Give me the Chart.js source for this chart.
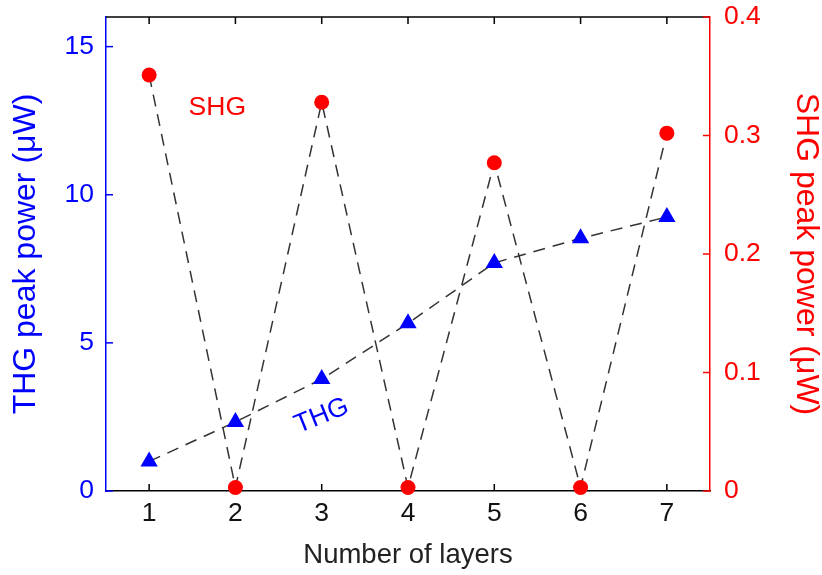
<!DOCTYPE html>
<html>
<head>
<meta charset="utf-8">
<script src="https://cdn.jsdelivr.net/npm/chart.js@4"></script>
<style>body{margin:0;background:#fff}</style>
</head>
<body>
<canvas id="layersChart" width="822" height="575"></canvas>
<script>
const layers = [1, 2, 3, 4, 5, 6, 7];
const thgPower = [1.0, 2.33, 3.78, 5.66, 7.7, 8.53, 9.25];
const shgPower = [0.351, 0.003, 0.328, 0.003, 0.277, 0.003, 0.302];
const xTicks = [1, 2, 3, 4, 5, 6, 7];
const thgTicks = [0, 5, 10, 15];
const shgTicks = [0, 0.1, 0.2, 0.3, 0.4];

const family = '"Liberation Sans", Arial, Helvetica, sans-serif';
Chart.defaults.font.family = family;

// inward ticks, top frame line and the two in-plot labels
const frame = {
  id: 'frame',
  beforeDatasetsDraw(chart) {
    const {ctx, chartArea: a, scales} = chart;
    ctx.save();
    ctx.lineWidth = 1.5;
    ctx.strokeStyle = '#000';
    ctx.beginPath();
    ctx.moveTo(a.left, a.top);
    ctx.lineTo(a.right, a.top);
    ctx.stroke();
    xTicks.forEach(v => {
      const px = scales.x.getPixelForValue(v);
      ctx.beginPath();
      ctx.moveTo(px, a.bottom); ctx.lineTo(px, a.bottom - 7);
      ctx.moveTo(px, a.top); ctx.lineTo(px, a.top + 7);
      ctx.stroke();
    });
    ctx.strokeStyle = 'blue';
    thgTicks.forEach(v => {
      const py = scales.yThg.getPixelForValue(v);
      ctx.beginPath();
      ctx.moveTo(a.left, py); ctx.lineTo(a.left + 7, py);
      ctx.stroke();
    });
    ctx.strokeStyle = 'red';
    shgTicks.forEach(v => {
      const py = scales.yShg.getPixelForValue(v);
      ctx.beginPath();
      ctx.moveTo(a.right, py); ctx.lineTo(a.right - 7, py);
      ctx.stroke();
    });

    ctx.font = '26.5px ' + family;
    ctx.textAlign = 'center';
    ctx.textBaseline = 'middle';
    ctx.fillStyle = 'red';
    ctx.fillText('SHG', scales.x.getPixelForValue(1.79), scales.yThg.getPixelForValue(12.95));
    ctx.fillStyle = 'blue';
    ctx.translate(scales.x.getPixelForValue(3.0), scales.yThg.getPixelForValue(2.53));
    ctx.rotate(-22 * Math.PI / 180);
    ctx.fillText('THG', 0, 0);
    ctx.restore();
  }
};

// fixed axis boxes so the plot area matches the original
const fixY = w => s => { s.width = w; s.paddingTop = 0; s.paddingBottom = 0; };

new Chart(document.getElementById('layersChart'), {
  type: 'scatter',
  data: {
    datasets: [
      {
        label: 'THG',
        data: layers.map((x, i) => ({x: x, y: thgPower[i]})),
        yAxisID: 'yThg',
        showLine: true,
        borderColor: '#333',
        borderWidth: 1.5,
        borderDash: [12, 8],
        pointStyle: 'triangle',
        pointRadius: 10,
        pointBackgroundColor: 'blue',
        pointBorderColor: 'blue',
        pointBorderWidth: 0,
        clip: false
      },
      {
        label: 'SHG',
        data: layers.map((x, i) => ({x: x, y: shgPower[i]})),
        yAxisID: 'yShg',
        showLine: true,
        borderColor: '#333',
        borderWidth: 1.5,
        borderDash: [12, 8],
        pointStyle: 'circle',
        pointRadius: 7.5,
        pointBackgroundColor: 'red',
        pointBorderColor: 'red',
        pointBorderWidth: 0,
        clip: false
      }
    ]
  },
  options: {
    responsive: false,
    animation: false,
    layout: {padding: {top: 17, left: 0, right: 0, bottom: 0}},
    plugins: {legend: {display: false}, tooltip: {enabled: false}},
    scales: {
      x: {
        type: 'linear',
        position: 'bottom',
        min: 0.5,
        max: 7.5,
        afterBuildTicks: s => { s.ticks = xTicks.map(v => ({value: v})); },
        afterFit: s => { s.height = 84; s.paddingLeft = 0; s.paddingRight = 0; },
        grid: {display: false, drawTicks: false},
        border: {color: '#000', width: 1.5},
        ticks: {color: '#111', font: {size: 26.5}, padding: 7, maxRotation: 0, autoSkip: false, callback: v => String(v)},
        title: {display: true, text: 'Number of layers', color: '#222', font: {size: 27.5, lineHeight: 1}, padding: {top: 0, bottom: 6}}
      },
      yThg: {
        type: 'linear',
        position: 'left',
        min: 0,
        max: 16,
        afterBuildTicks: s => { s.ticks = thgTicks.map(v => ({value: v})); },
        afterFit: fixY(106),
        grid: {display: false, drawTicks: false},
        border: {color: 'blue', width: 1.5},
        ticks: {color: 'blue', font: {size: 26.5}, padding: 12, callback: v => String(v)},
        title: {display: true, text: 'THG peak power (μW)', color: 'blue', font: {size: 32, lineHeight: 1}, padding: {top: 10, bottom: 0}}
      },
      yShg: {
        type: 'linear',
        position: 'right',
        min: 0,
        max: 0.4,
        afterBuildTicks: s => { s.ticks = shgTicks.map(v => ({value: v})); },
        afterFit: fixY(112),
        grid: {display: false, drawTicks: false},
        border: {color: 'red', width: 1.5},
        ticks: {color: 'red', font: {size: 26.5}, padding: 14, callback: v => String(v)},
        title: {display: true, text: 'SHG peak power (μW)', color: 'red', font: {size: 32, lineHeight: 1}, padding: {top: 0, bottom: 0}}
      }
    }
  },
  plugins: [frame]
});
</script>
</body>
</html>
